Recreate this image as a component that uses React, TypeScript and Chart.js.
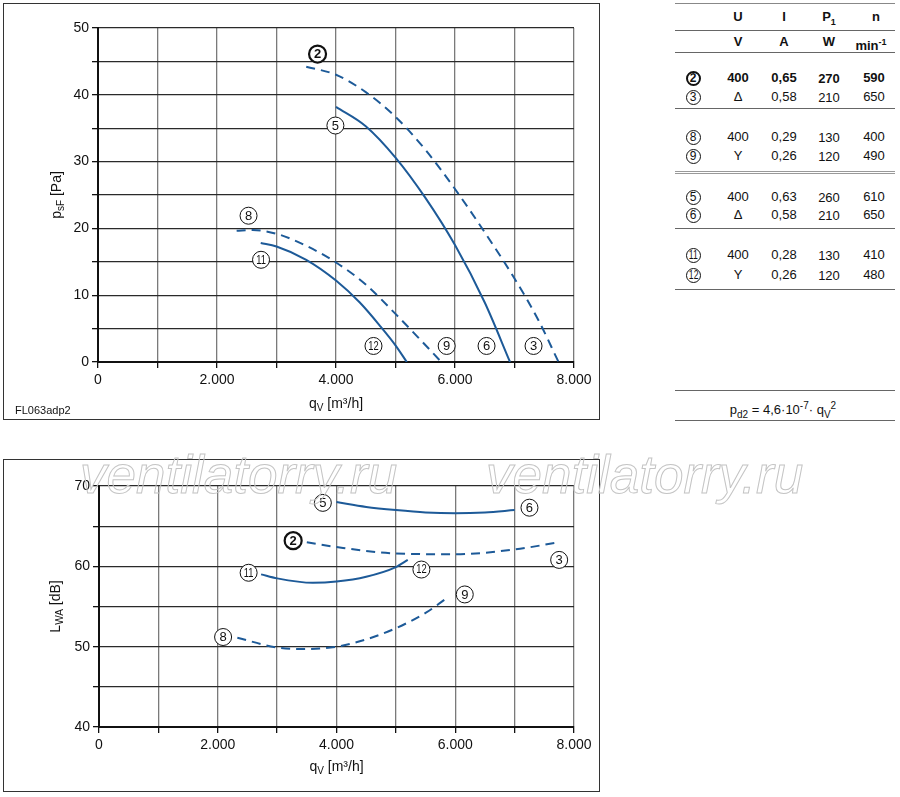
import React, { useEffect, useRef } from 'react';
import { Chart, registerables } from 'chart.js';
Chart.register(...registerables);

const BLUE = '#1d5a98';
const FONT = '"Liberation Sans", Arial, sans-serif';

// ---------- Top chart: p_sF [Pa] vs q_V [m³/h] ----------
const p23X = [3500, 4000, 4500, 5000, 5500, 6000, 6500, 7000, 7400, 7740];
const p23Y = [44.2, 43.0, 40.4, 36.7, 31.8, 25.9, 19.4, 12.5, 6.3, 0];
const p56X = [4000, 4500, 5000, 5500, 6000, 6500, 6925];
const p56Y = [38.2, 35.3, 30.6, 24.6, 17.5, 8.9, 0];
const p89X = [2330, 2600, 3000, 3500, 4000, 4500, 5000, 5400, 5770];
const p89Y = [19.65, 19.75, 19.2, 17.4, 14.9, 11.6, 7.2, 3.5, 0];
const p1112X = [2735, 3000, 3500, 4000, 4400, 4750, 5000, 5190];
const p1112Y = [17.8, 17.3, 15.3, 12.2, 8.9, 5.3, 2.5, 0];

const topMarkText = ['2', '5', '8', '11', '12', '9', '6', '3'];
const topMarkX = [3690, 3990, 2530, 2740, 4630, 5860, 6530, 7320];
const topMarkY = [46.1, 35.4, 21.9, 15.3, 2.4, 2.4, 2.4, 2.4];
const topMarkBold = [true, false, false, false, false, false, false, false];

// ---------- Bottom chart: L_WA [dB] vs q_V [m³/h] ----------
const n56X = [4000, 4500, 5000, 5500, 6000, 6500, 7000];
const n56Y = [68, 67.4, 67.0, 66.7, 66.6, 66.7, 67.0];
const n23X = [3500, 4000, 5000, 6000, 7000, 7750];
const n23Y = [63.0, 62.4, 61.6, 61.5, 62.1, 63.0];
const n1112X = [2730, 3000, 3600, 4000, 4500, 5000, 5200];
const n1112Y = [59.0, 58.5, 57.95, 58.1, 58.7, 59.9, 60.8];
const n89X = [2330, 3000, 3450, 4000, 4500, 5000, 5500, 5850];
const n89Y = [51.1, 49.9, 49.7, 50.0, 50.9, 52.3, 54.2, 56.0];

const botMarkText = ['5', '6', '2', '3', '11', '12', '9', '8'];
const botMarkX = [3770, 7250, 3270, 7750, 2520, 5430, 6160, 2090];
const botMarkY = [67.9, 67.3, 63.2, 60.8, 59.2, 59.6, 56.5, 51.2];
const botMarkBold = [false, false, true, false, false, false, false, false];

// ---------- Ticks ----------
const xTickValues = [0, 2000, 4000, 6000, 8000];
const xTickLabels = ['0', '2.000', '4.000', '6.000', '8.000'];
const topYTickValues = [0, 10, 20, 30, 40, 50];
const botYTickValues = [40, 50, 60, 70];

// ---------- Table ----------
const tableIds = ['2', '3', '8', '9', '5', '6', '11', '12'];
const tableU = ['400', 'Δ', '400', 'Y', '400', 'Δ', '400', 'Y'];
const tableI = ['0,65', '0,58', '0,29', '0,26', '0,63', '0,58', '0,28', '0,26'];
const tableP = ['270', '210', '130', '120', '260', '210', '130', '120'];
const tableN = ['590', '650', '400', '490', '610', '650', '410', '480'];
const tableBold = [true, false, false, false, false, false, false, false];

type Part = { t: string; sub?: boolean; sup?: boolean };

function drawParts(ctx: CanvasRenderingContext2D, parts: Part[], cx: number, cy: number) {
  const main = `14px ${FONT}`;
  const small = `10px ${FONT}`;
  let total = 0;
  for (const p of parts) {
    ctx.font = p.sub || p.sup ? small : main;
    total += ctx.measureText(p.t).width;
  }
  let x = cx - total / 2;
  ctx.textAlign = 'left';
  ctx.textBaseline = 'middle';
  ctx.fillStyle = '#111';
  for (const p of parts) {
    ctx.font = p.sub || p.sup ? small : main;
    const dy = p.sub ? 4 : p.sup ? -5 : 0;
    ctx.fillText(p.t, x, cy + dy);
    x += ctx.measureText(p.t).width;
  }
}

const overlayPlugin = {
  id: 'overlay',
  afterDatasetsDraw(chart: any, _args: any, opts: any) {
    const { ctx, chartArea } = chart;
    const xs = chart.scales.x;
    const ys = chart.scales.y;
    ctx.save();
    const { text, mx, my, bold } = opts.marks;
    for (let i = 0; i < text.length; i++) {
      const px = xs.getPixelForValue(mx[i]);
      const py = ys.getPixelForValue(my[i]);
      ctx.beginPath();
      ctx.arc(px, py, 8.5, 0, Math.PI * 2);
      ctx.fillStyle = '#fff';
      ctx.fill();
      ctx.lineWidth = bold[i] ? 2.2 : 1;
      ctx.strokeStyle = '#111';
      ctx.stroke();
      ctx.fillStyle = '#111';
      const two = text[i].length > 1;
      ctx.font = `${bold[i] ? 'bold ' : ''}${two ? 12 : 13}px ${FONT}`;
      ctx.textAlign = 'center';
      ctx.textBaseline = 'middle';
      if (two) {
        ctx.save();
        ctx.translate(px, py + 0.5);
        ctx.scale(0.78, 1);
        ctx.fillText(text[i], 0, 0);
        ctx.restore();
      } else {
        ctx.fillText(text[i], px, py + 0.5);
      }
    }
    drawParts(ctx, opts.xTitle, (chartArea.left + chartArea.right) / 2, chartArea.bottom + opts.xTitleOffset);
    ctx.save();
    ctx.translate(chartArea.left + opts.yTitleOffset, (chartArea.top + chartArea.bottom) / 2);
    ctx.rotate(-Math.PI / 2);
    drawParts(ctx, opts.yTitle, 0, 0);
    ctx.restore();
    ctx.restore();
  },
};

function ds(xs: number[], ys: number[], dashed: boolean) {
  return {
    data: xs.map((x, i) => ({ x, y: ys[i] })),
    borderColor: BLUE,
    borderWidth: 2,
    borderDash: dashed ? [9, 6] : [],
    pointRadius: 0,
    fill: false,
    cubicInterpolationMode: 'monotone',
  };
}

function makeConfig(p: {
  datasets: any[];
  yMin: number;
  yMax: number;
  yTicks: number[];
  marks: any;
  xTitle: Part[];
  yTitle: Part[];
  padTop: number;
  yWidth: number;
  xHeight: number;
  xTitleOffset: number;
  yTitleOffset: number;
}): any {
  return {
    type: 'line',
    data: { datasets: p.datasets },
    options: {
      animation: false,
      responsive: false,
      layout: { padding: { top: p.padTop, right: 26, left: 0, bottom: 0 } },
      plugins: {
        legend: { display: false },
        tooltip: { enabled: false },
        overlay: {
          marks: p.marks,
          xTitle: p.xTitle,
          yTitle: p.yTitle,
          xTitleOffset: p.xTitleOffset,
          yTitleOffset: p.yTitleOffset,
        },
      },
      scales: {
        x: {
          type: 'linear',
          min: 0,
          max: 8000,
          afterFit: (s: any) => {
            s.height = p.xHeight;
          },
          ticks: {
            stepSize: 1000,
            autoSkip: false,
            maxRotation: 0,
            padding: 4,
            color: '#111',
            font: { family: FONT, size: 14 },
            callback: (v: any) => {
              const i = xTickValues.indexOf(Number(v));
              return i >= 0 ? xTickLabels[i] : '';
            },
          },
          grid: { color: '#7a7a7a', lineWidth: 1.3, tickLength: 6, tickColor: '#111' },
          border: { color: '#111', width: 2 },
        },
        y: {
          type: 'linear',
          min: p.yMin,
          max: p.yMax,
          afterFit: (s: any) => {
            s.width = p.yWidth;
          },
          ticks: {
            stepSize: 5,
            autoSkip: false,
            padding: 3,
            color: '#111',
            font: { family: FONT, size: 14 },
            callback: (v: any) => (p.yTicks.indexOf(Number(v)) >= 0 ? String(v) : ''),
          },
          grid: { color: '#2a2a2a', lineWidth: 1.3, tickLength: 6, tickColor: '#111' },
          border: { color: '#111', width: 2 },
        },
      },
    },
    plugins: [overlayPlugin],
  };
}

const xTitleParts: Part[] = [{ t: 'q' }, { t: 'V', sub: true }, { t: ' [m³/h]' }];

function ChartBox(props: { left: number; top: number; width: number; height: number; config: () => any; children?: any }) {
  const ref = useRef<HTMLCanvasElement>(null);
  useEffect(() => {
    const chart = new Chart(ref.current as HTMLCanvasElement, props.config());
    return () => chart.destroy();
  }, []);
  return (
    <div
      style={{
        position: 'absolute',
        left: props.left,
        top: props.top,
        width: props.width,
        height: props.height,
      }}
    >
      <canvas
        ref={ref}
        width={props.width}
        height={props.height}
        style={{ position: 'absolute', left: 0, top: 0, width: props.width, height: props.height }}
      />
      <div
        style={{
          position: 'absolute',
          left: 0,
          top: 0,
          width: props.width,
          height: props.height,
          border: '1px solid #333',
          boxSizing: 'border-box',
          pointerEvents: 'none',
        }}
      />
      {props.children}
    </div>
  );
}

function Circ(props: { t: string; bold?: boolean }) {
  const two = props.t.length > 1;
  return (
    <span
      style={{
        display: 'inline-block',
        width: 15,
        height: 15,
        lineHeight: props.bold ? '11px' : '13px',
        borderRadius: '50%',
        border: props.bold ? '2px solid #111' : '1px solid #111',
        boxSizing: 'border-box',
        textAlign: 'center',
        fontSize: 12,
        fontWeight: props.bold ? 'bold' : 'normal',
        verticalAlign: 'middle',
        overflow: 'hidden',
      }}
    >
      <span style={{ display: 'inline-block', transform: two ? 'scaleX(0.72)' : 'none' }}>{props.t}</span>
    </span>
  );
}

function Cell(props: { cx: number; cy: number; bold?: boolean; children: any; w?: number }) {
  const w = props.w ?? 60;
  return (
    <div
      style={{
        position: 'absolute',
        left: props.cx - w / 2,
        top: props.cy - 8,
        width: w,
        height: 16,
        lineHeight: '16px',
        textAlign: 'center',
        fontSize: 13,
        fontWeight: props.bold ? 'bold' : 'normal',
        whiteSpace: 'nowrap',
      }}
    >
      {props.children}
    </div>
  );
}

function HLine(props: { y: number; color?: string }) {
  return (
    <div
      style={{
        position: 'absolute',
        left: 675,
        top: props.y,
        width: 220,
        height: 0,
        borderTop: `1px solid ${props.color ?? '#666'}`,
      }}
    />
  );
}

export default function App() {
  const rowY = [78, 97, 137, 156, 197, 215, 255, 275];
  const colX = [693, 738, 784, 829, 874];
  const topConfig = () =>
    makeConfig({
      datasets: [ds(p23X, p23Y, true), ds(p56X, p56Y, false), ds(p89X, p89Y, true), ds(p1112X, p1112Y, false)],
      yMin: 0,
      yMax: 50,
      yTicks: topYTickValues,
      marks: { text: topMarkText, mx: topMarkX, my: topMarkY, bold: topMarkBold },
      xTitle: xTitleParts,
      yTitle: [{ t: 'p' }, { t: 'sF', sub: true }, { t: ' [Pa]' }],
      padTop: 25,
      yWidth: 95,
      xHeight: 58,
      xTitleOffset: 42,
      yTitleOffset: -41,
    });
  const botConfig = () =>
    makeConfig({
      datasets: [ds(n56X, n56Y, false), ds(n23X, n23Y, true), ds(n1112X, n1112Y, false), ds(n89X, n89Y, true)],
      yMin: 40,
      yMax: 70,
      yTicks: botYTickValues,
      marks: { text: botMarkText, mx: botMarkX, my: botMarkY, bold: botMarkBold },
      xTitle: xTitleParts,
      yTitle: [{ t: 'L' }, { t: 'WA', sub: true }, { t: ' [dB]' }],
      padTop: 27,
      yWidth: 96,
      xHeight: 65,
      xTitleOffset: 40,
      yTitleOffset: -43,
    });

  const wm: any = {
    position: 'absolute',
    top: 448,
    fontFamily: FONT,
    fontStyle: 'italic',
    fontSize: 53,
    lineHeight: '53px',
    color: 'transparent',
    WebkitTextStroke: '1px #c4c4c4',
    whiteSpace: 'nowrap',
    pointerEvents: 'none',
  };

  return (
    <div
      style={{
        position: 'absolute',
        left: 0,
        top: 0,
        width: 900,
        height: 797,
        background: '#fff',
        fontFamily: FONT,
        color: '#111',
        overflow: 'hidden',
      }}
    >
      <ChartBox left={3} top={3} width={597} height={417} config={topConfig}>
        <div style={{ position: 'absolute', left: 12, top: 401, fontSize: 11, lineHeight: '13px' }}>FL063adp2</div>
      </ChartBox>
      <ChartBox left={3} top={459} width={597} height={333} config={botConfig} />

      {/* table */}
      <HLine y={3} color="#888" />
      <Cell cx={colX[1]} cy={17} bold>U</Cell>
      <Cell cx={colX[2]} cy={17} bold>I</Cell>
      <Cell cx={colX[3]} cy={17} bold>
        P<sub style={{ fontSize: 9 }}>1</sub>
      </Cell>
      <Cell cx={colX[4] + 2} cy={17} bold>n</Cell>
      <HLine y={30} />
      <Cell cx={colX[1]} cy={42} bold>V</Cell>
      <Cell cx={colX[2]} cy={42} bold>A</Cell>
      <Cell cx={colX[3]} cy={42} bold>W</Cell>
      <Cell cx={colX[4] - 3} cy={42} bold>
        min<sup style={{ fontSize: 9 }}>-1</sup>
      </Cell>
      <HLine y={52} />
      {tableIds.map((id, i) => (
        <React.Fragment key={id}>
          <Cell cx={colX[0]} cy={rowY[i]} w={20}>
            <Circ t={id} bold={tableBold[i]} />
          </Cell>
          <Cell cx={colX[1]} cy={rowY[i]} bold={tableBold[i]}>{tableU[i]}</Cell>
          <Cell cx={colX[2]} cy={rowY[i]} bold={tableBold[i]}>{tableI[i]}</Cell>
          <Cell cx={colX[3]} cy={rowY[i] + 1} bold={tableBold[i]}>{tableP[i]}</Cell>
          <Cell cx={colX[4]} cy={rowY[i]} bold={tableBold[i]}>{tableN[i]}</Cell>
        </React.Fragment>
      ))}
      <HLine y={108} />
      <HLine y={171} color="#999" />
      <HLine y={173} color="#999" />
      <HLine y={228} />
      <HLine y={289} />
      <HLine y={390} />
      <Cell cx={783} cy={406} w={200}>
        p<sub style={{ fontSize: 10 }}>d2</sub> = 4,6·10<sup style={{ fontSize: 10 }}>-7</sup>· q
        <sub style={{ fontSize: 10 }}>V</sub>
        <sup style={{ fontSize: 10 }}>2</sup>
      </Cell>
      <HLine y={420} />

      {/* watermark */}
      <div style={{ ...wm, left: 80 }}>ventilatorry.ru</div>
      <div style={{ ...wm, left: 486 }}>ventilatorry.ru</div>
    </div>
  );
}
